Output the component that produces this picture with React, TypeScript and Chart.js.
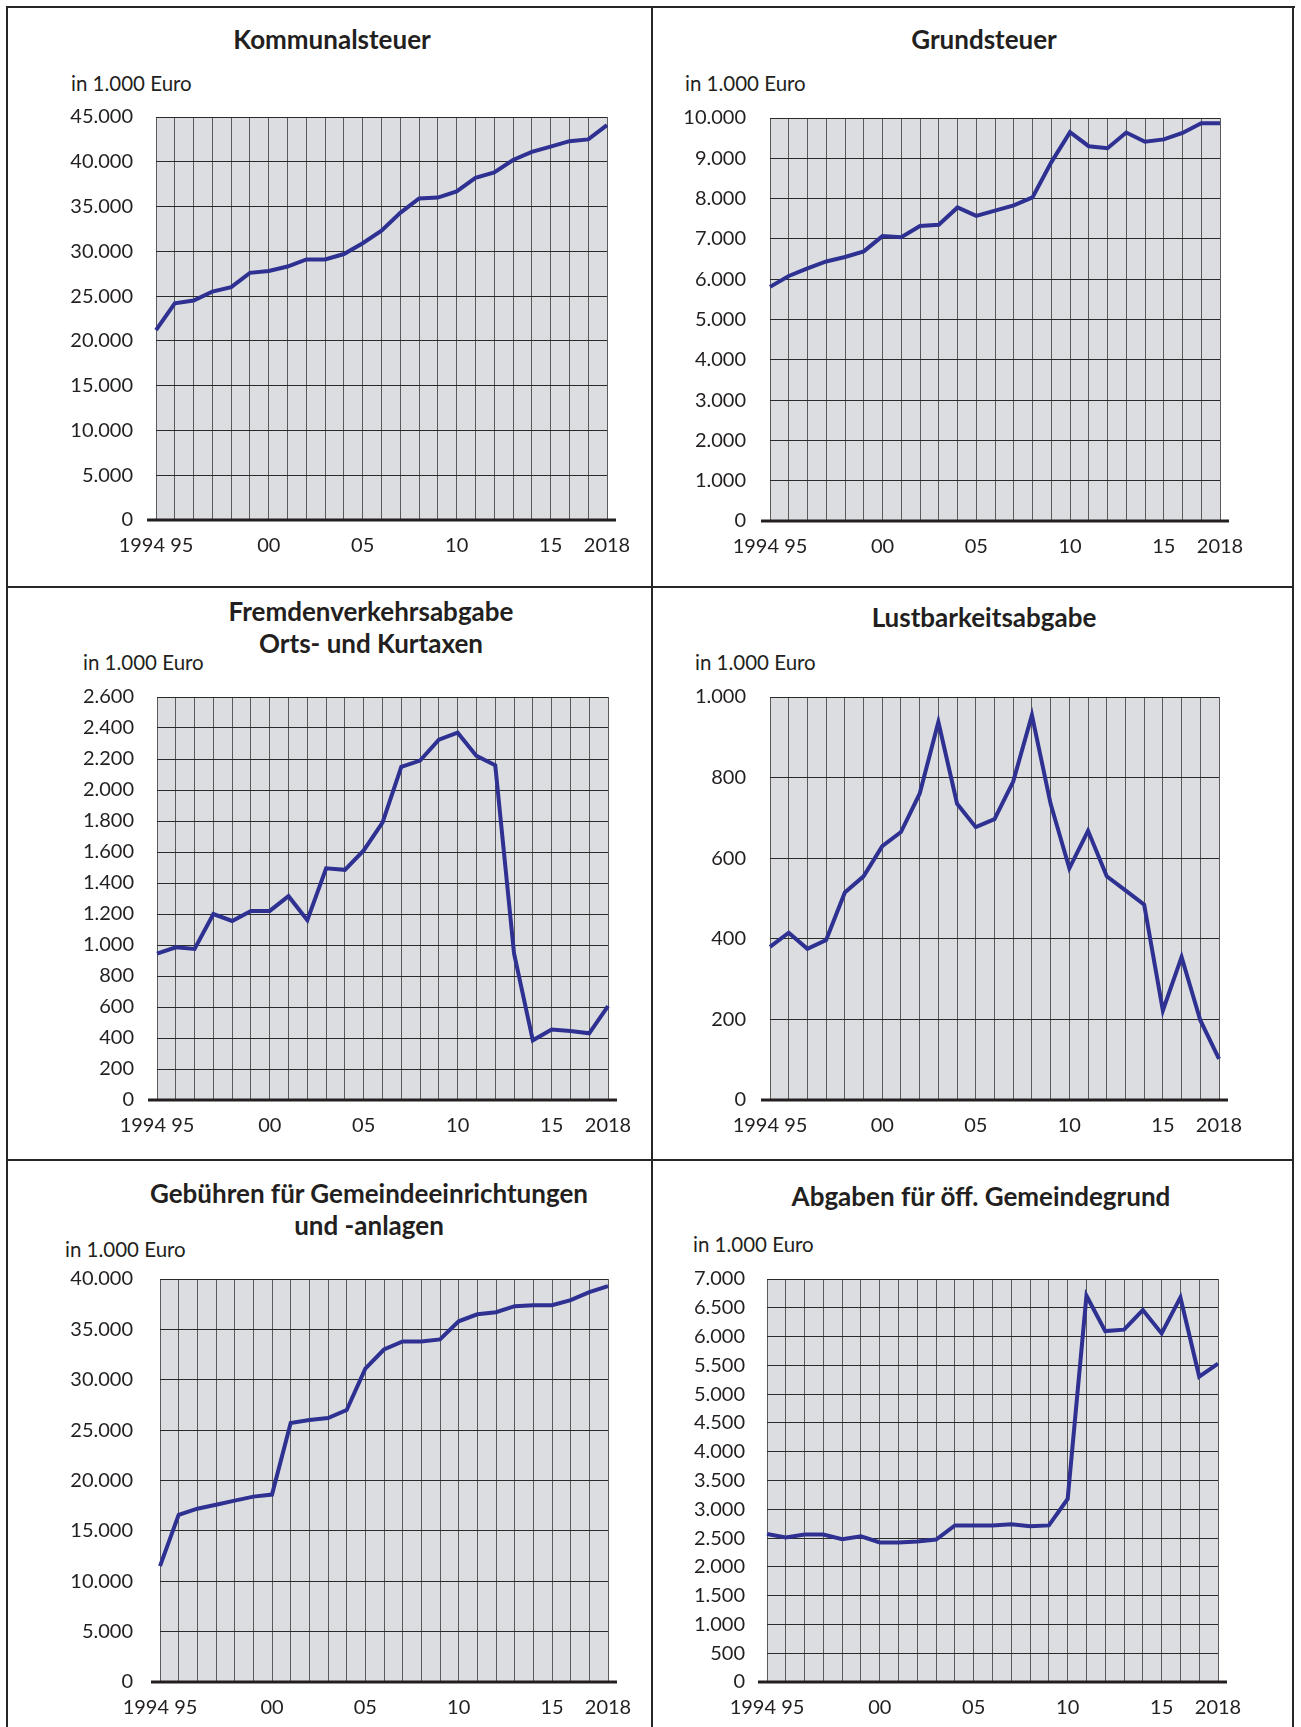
import React, { useEffect, useRef } from "react";
import { Chart, registerables } from "chart.js";

Chart.register(...registerables);

// ---------------- DATA ----------------
const YEARS = [
  "1994", "1995", "1996", "1997", "1998", "1999", "2000", "2001", "2002", "2003",
  "2004", "2005", "2006", "2007", "2008", "2009", "2010", "2011", "2012", "2013",
  "2014", "2015", "2016", "2017", "2018",
];

const X_TICK_LABELS = [
  "1994 95", "", "", "", "", "", "00", "", "", "", "", "05", "", "", "", "", "10",
  "", "", "", "", "15", "", "", "2018",
];

const UNIT_LABEL = "in 1.000 Euro";

const KOMMUNALSTEUER = [
  21200, 24200, 24500, 25500, 26000, 27600, 27800, 28300, 29100, 29100,
  29700, 30900, 32300, 34300, 35900, 36000, 36700, 38200, 38800, 40200,
  41100, 41700, 42300, 42500, 44100,
];

const GRUNDSTEUER = [
  5810, 6080, 6270, 6440, 6550, 6690, 7070, 7040, 7320, 7350,
  7780, 7570, 7700, 7830, 8030, 8900, 9650, 9300, 9250, 9640,
  9410, 9470, 9630, 9870, 9870,
];

const FREMDENVERKEHR = [
  945, 985, 975, 1200, 1155, 1220, 1220, 1315, 1160, 1495,
  1485, 1610, 1790, 2150, 2190, 2325, 2370, 2220, 2160, 945,
  385, 455, 445, 430, 605,
];

const LUSTBARKEIT = [
  380, 415, 375, 397, 515, 555, 630, 665, 760, 938,
  735, 677, 697, 790, 955, 735, 575, 668, 555, 520,
  485, 222, 355, 198, 102,
];

const GEBUEHREN = [
  11500, 16600, 17200, 17600, 18000, 18400, 18600, 25700, 26000, 26200,
  27000, 31100, 33000, 33800, 33800, 34000, 35800, 36500, 36700, 37300,
  37400, 37400, 37900, 38700, 39300,
];

const GEMEINDEGRUND = [
  2570, 2510, 2560, 2560, 2480, 2530, 2425, 2425, 2440, 2475,
  2720, 2720, 2720, 2740, 2705, 2720, 3180, 6710, 6095, 6120,
  6460, 6055, 6680, 5305, 5530,
];

// ---------------- STYLE / LAYOUT ----------------
const TEXT = "#231f20";
const LINE = "#2e3192";
const PLOT_BG = "#dcdde0";
const FONT = "Lato, 'Open Sans', sans-serif";

type Panel = {
  title: string[];
  data: number[];
  max: number;
  step: number;
  plot: { l: number; t: number; r: number; b: number };
  yPad: number;
  unit: { x: number; cy: number };
  titleX: number;
  titleY: number[];
};

const PANELS: Panel[] = [
  {
    title: ["Kommunalsteuer"], data: KOMMUNALSTEUER, max: 45000, step: 5000,
    plot: { l: 156, t: 117, r: 607, b: 520 }, yPad: 23,
    unit: { x: 71, cy: 83 }, titleX: 332, titleY: [39],
  },
  {
    title: ["Grundsteuer"], data: GRUNDSTEUER, max: 10000, step: 1000,
    plot: { l: 770, t: 118, r: 1220, b: 521 }, yPad: 24,
    unit: { x: 685, cy: 83 }, titleX: 984, titleY: [39],
  },
  {
    title: ["Fremdenverkehrsabgabe", "Orts- und Kurtaxen"], data: FREMDENVERKEHR, max: 2600, step: 200,
    plot: { l: 157, t: 697, r: 608, b: 1100 }, yPad: 23,
    unit: { x: 83, cy: 662 }, titleX: 371, titleY: [611, 643],
  },
  {
    title: ["Lustbarkeitsabgabe"], data: LUSTBARKEIT, max: 1000, step: 200,
    plot: { l: 770, t: 697, r: 1219, b: 1100 }, yPad: 24,
    unit: { x: 695, cy: 662 }, titleX: 984, titleY: [617],
  },
  {
    title: ["Gebühren für Gemeindeeinrichtungen", "und -anlagen"], data: GEBUEHREN, max: 40000, step: 5000,
    plot: { l: 160, t: 1279, r: 608, b: 1682 }, yPad: 27,
    unit: { x: 65, cy: 1249 }, titleX: 369, titleY: [1193, 1225],
  },
  {
    title: ["Abgaben für öff. Gemeindegrund"], data: GEMEINDEGRUND, max: 7000, step: 500,
    plot: { l: 767, t: 1279, r: 1218, b: 1682 }, yPad: 22,
    unit: { x: 693, cy: 1244 }, titleX: 981, titleY: [1196],
  },
];

const Y_AXIS_W = 110;
const PAD_T = 48;
const PAD_R = 55;
const X_AXIS_H = 55;

const fmt = (v: number) => String(Math.round(v)).replace(/\B(?=(\d{3})+(?!\d))/g, ".");

const plotBgPlugin = {
  id: "plotBg",
  beforeDraw(chart: any) {
    const { ctx, chartArea } = chart;
    ctx.save();
    ctx.fillStyle = PLOT_BG;
    ctx.fillRect(chartArea.left, chartArea.top, chartArea.right - chartArea.left, chartArea.bottom - chartArea.top);
    ctx.restore();
  },
};

const axisLinePlugin = {
  id: "axisLine",
  afterDatasetsDraw(chart: any) {
    const { ctx, chartArea } = chart;
    ctx.save();
    ctx.strokeStyle = TEXT;
    ctx.lineWidth = 3;
    ctx.beginPath();
    ctx.moveTo(chartArea.left - 9, chartArea.bottom);
    ctx.lineTo(chartArea.right + 9, chartArea.bottom);
    ctx.stroke();
    ctx.restore();
  },
};

function PanelChart({ p }: { p: Panel }) {
  const ref = useRef<HTMLCanvasElement | null>(null);
  const w = p.plot.r - p.plot.l + Y_AXIS_W + PAD_R;
  const h = p.plot.b - p.plot.t + PAD_T + X_AXIS_H;

  useEffect(() => {
    if (!ref.current) return;
    const chart = new Chart(ref.current, {
      type: "line",
      data: {
        labels: YEARS,
        datasets: [
          {
            data: p.data,
            borderColor: LINE,
            borderWidth: 4,
            pointRadius: 0,
            tension: 0,
            borderJoinStyle: "miter",
            borderCapStyle: "butt",
            fill: false,
          },
        ],
      },
      options: {
        responsive: false,
        animation: false,
        devicePixelRatio: 1,
        layout: { padding: { top: PAD_T, right: PAD_R, left: 0, bottom: 0 } },
        plugins: { legend: { display: false }, tooltip: { enabled: false }, title: { display: false } },
        scales: {
          x: {
            type: "category",
            grid: { color: "#5a5a5a", lineWidth: 1, drawTicks: false, offset: false },
            border: { display: false },
            ticks: {
              autoSkip: false,
              maxRotation: 0,
              minRotation: 0,
              padding: 14,
              color: TEXT,
              font: { family: FONT, size: 20 },
              callback: (_v: any, i: number) => X_TICK_LABELS[i],
            },
            afterFit: (s: any) => { s.height = X_AXIS_H; },
          },
          y: {
            min: 0,
            max: p.max,
            grid: { color: "#2a2a2a", lineWidth: 1, drawTicks: false },
            border: { display: false },
            ticks: {
              stepSize: p.step,
              padding: p.yPad,
              color: TEXT,
              font: { family: FONT, size: 20 },
              callback: (v: any) => fmt(Number(v)),
            },
            afterFit: (s: any) => { s.width = Y_AXIS_W; },
          },
        },
      },
      plugins: [plotBgPlugin, axisLinePlugin],
    } as any);
    return () => chart.destroy();
  }, [p]);

  return (
    <canvas
      ref={ref}
      width={w}
      height={h}
      style={{ position: "absolute", left: p.plot.l - Y_AXIS_W, top: p.plot.t - PAD_T, width: w, height: h }}
    />
  );
}

const BORDER = "#262626";

export default function App() {
  const lines = [
    { left: 6, top: 6, width: 1289, height: 2 },
    { left: 6, top: 6, width: 2, height: 1721 },
    { left: 1292, top: 6, width: 2, height: 1721 },
    { left: 651, top: 6, width: 2, height: 1721 },
    { left: 6, top: 586, width: 1288, height: 2 },
    { left: 6, top: 1159, width: 1288, height: 2 },
  ];
  return (
    <div
      style={{
        position: "absolute",
        left: 0,
        top: 0,
        width: 1301,
        height: 1727,
        background: "#ffffff",
        overflow: "hidden",
        fontFamily: FONT,
        color: TEXT,
      }}
    >
      {lines.map((l, i) => (
        <div key={i} style={{ position: "absolute", background: BORDER, ...l }} />
      ))}
      {PANELS.map((p, i) => (
        <React.Fragment key={i}>
          {p.title.map((t, j) => (
            <div
              key={j}
              style={{
                position: "absolute",
                left: p.titleX - 300,
                width: 600,
                top: p.titleY[j] - 16,
                height: 32,
                lineHeight: "32px",
                textAlign: "center",
                fontWeight: 700,
                fontSize: 26,
                whiteSpace: "nowrap",
              }}
            >
              {t}
            </div>
          ))}
          <div
            style={{
              position: "absolute",
              left: p.unit.x,
              top: p.unit.cy - 14,
              height: 28,
              lineHeight: "28px",
              fontSize: 20.5,
              whiteSpace: "nowrap",
            }}
          >
            {UNIT_LABEL}
          </div>
          <PanelChart p={p} />
        </React.Fragment>
      ))}
    </div>
  );
}
